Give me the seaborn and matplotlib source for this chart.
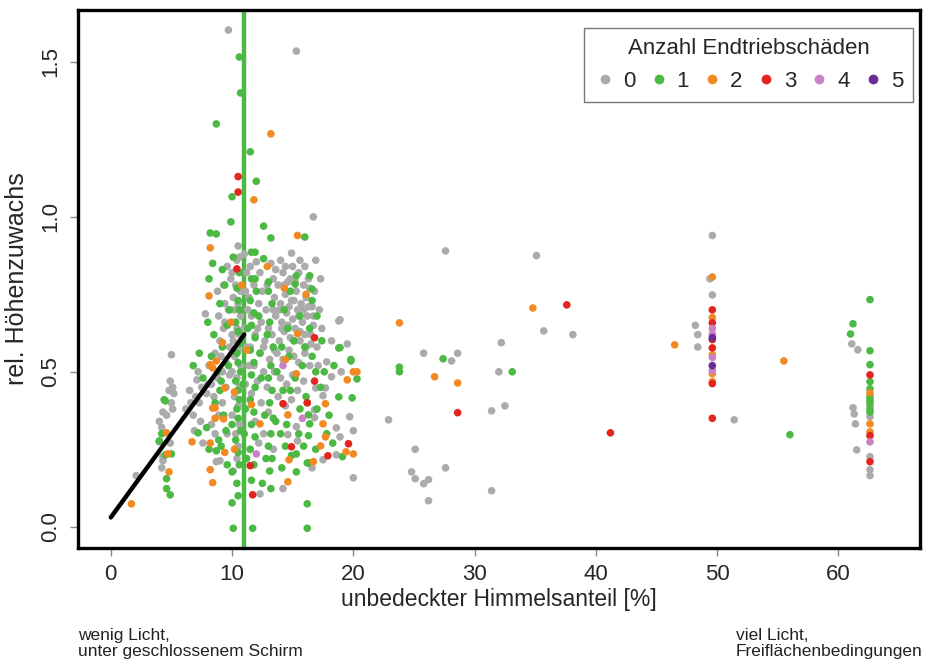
import matplotlib.pyplot as plt
import matplotlib.lines as mlines
import pandas as pd
import seaborn as sns

# Endtriebschaeden 0 (grau)
x0 = [9.7, 15.3, 16.7, 14.9, 27.6, 35.1, 35.7, 38.1, 32.2, 25.8, 28.6, 28.1, 32.0, 32.5, 31.4, 22.9, 25.1, 27.6, 24.8, 25.1,
      26.2, 25.8, 26.2, 31.4, 49.6, 49.4, 49.6, 48.2, 48.4, 48.4, 51.4, 61.1, 61.6, 62.6, 61.2, 61.3, 61.4, 61.5, 62.6, 62.6,
      62.6, 62.6, 2.1, 4.0, 4.3, 4.2, 4.2, 4.0, 4.9, 4.3, 5.0, 4.9, 5.1, 5.2, 4.8, 5.0, 5.1, 4.3, 4.6, 6.2,
      6.6, 7.0, 7.3, 6.8, 7.1, 7.2, 7.6, 7.8, 6.5, 7.5, 8.0, 8.3, 8.6, 8.9, 9.0, 8.7, 8.5, 8.8, 9.2, 8.6,
      9.0, 9.3, 8.9, 9.4, 8.8, 9.1, 9.5, 9.2, 9.6, 9.8, 10.5, 10.6, 10.4, 10.0, 10.3, 10.7, 10.1, 10.5, 10.2, 10.7,
      10.0, 10.4, 10.6, 10.1, 10.5, 10.2, 10.7, 10.0, 10.4, 10.6, 10.2, 10.5, 10.0, 10.6, 10.3, 10.5, 10.4, 10.1, 12.0, 11.5,
      12.3, 11.8, 12.5, 11.4, 12.2, 12.8, 11.6, 12.4, 13.0, 11.9, 12.7, 11.5, 12.3, 13.1, 11.8, 12.6, 12.1, 12.9, 11.6, 12.4,
      13.0, 11.9, 12.6, 12.2, 12.3, 13.4, 13.4, 13.8, 14.2, 14.6, 15.0, 15.5, 15.9, 16.3, 16.8, 13.5, 14.0, 14.4, 14.9, 15.3,
      15.7, 16.1, 16.6, 13.6, 14.1, 14.5, 15.0, 15.4, 15.8, 16.2, 16.7, 13.3, 13.9, 14.3, 14.8, 15.2, 15.6, 16.0, 16.5, 13.7,
      14.2, 14.7, 15.1, 15.5, 16.0, 16.4, 13.5, 14.0, 14.5, 15.0, 15.4, 15.9, 13.8, 14.4, 14.9, 15.3, 14.6, 15.4, 16.8, 16.8,
      16.6, 14.2, 16.9, 17.7, 17.5, 17.8, 18.2, 19.0, 19.7, 18.6, 18.9, 20.0, 18.6, 17.5, 20.0, 18.8, 19.5, 18.2, 18.9, 17.2,
      17.4, 17.0, 17.3, 16.9,
      9.6, 9.9, 9.3, 9.7, 10.0, 9.5, 9.8, 9.4, 11.0, 11.2, 11.1, 11.3, 11.0, 11.2, 11.4, 11.1, 12.1, 12.6, 13.2, 13.6,
      14.0, 14.4, 14.8, 15.2, 15.6, 16.0, 16.4, 13.4, 13.9, 14.3, 14.7, 15.1, 15.5, 15.9, 16.3, 16.7, 14.1, 14.6, 15.1, 15.6,
      16.1, 12.9, 13.5, 16.5, 17.1, 8.3, 7.9, 8.1, 7.4, 6.9]
y0 = [1.603, 1.535, 1.00, 0.883, 0.89, 0.875, 0.632, 0.62, 0.594, 0.56, 0.56, 0.535, 0.50, 0.39, 0.374, 0.345, 0.25, 0.19, 0.177, 0.155,
      0.152, 0.139, 0.084, 0.116, 0.94, 0.80, 0.748, 0.65, 0.62, 0.58, 0.345, 0.59, 0.571, 0.355, 0.384, 0.364, 0.332, 0.248, 0.226, 0.184,
      0.165, 0.39, 0.165, 0.34, 0.226, 0.19, 0.32, 0.274, 0.27, 0.213, 0.555, 0.47, 0.45, 0.43, 0.44, 0.40, 0.38, 0.37, 0.36, 0.38,
      0.40, 0.42, 0.40, 0.36, 0.474, 0.50, 0.27, 0.687, 0.44, 0.45, 0.46, 0.33, 0.30, 0.36, 0.213, 0.21, 0.42, 0.48, 0.50, 0.56,
      0.60, 0.64, 0.68, 0.72, 0.76, 0.55, 0.45, 0.40, 0.30, 0.58, 0.906, 0.87, 0.86, 0.82, 0.78, 0.76, 0.74, 0.72, 0.70, 0.68,
      0.66, 0.64, 0.62, 0.60, 0.57, 0.55, 0.52, 0.50, 0.48, 0.45, 0.42, 0.39, 0.36, 0.33, 0.30, 0.26, 0.22, 0.18, 0.855, 0.84,
      0.82, 0.78, 0.76, 0.74, 0.72, 0.70, 0.68, 0.66, 0.64, 0.62, 0.60, 0.58, 0.56, 0.54, 0.52, 0.50, 0.47, 0.45, 0.43, 0.40,
      0.37, 0.34, 0.30, 0.27, 0.106, 0.25, 0.80, 0.78, 0.82, 0.79, 0.84, 0.82, 0.78, 0.80, 0.76, 0.74, 0.72, 0.75, 0.73, 0.76,
      0.72, 0.74, 0.71, 0.68, 0.66, 0.69, 0.67, 0.70, 0.66, 0.68, 0.65, 0.62, 0.60, 0.63, 0.61, 0.64, 0.60, 0.62, 0.59, 0.56,
      0.54, 0.57, 0.55, 0.53, 0.56, 0.52, 0.50, 0.48, 0.46, 0.49, 0.44, 0.47, 0.42, 0.39, 0.41, 0.323, 0.297, 0.277, 0.352, 0.377,
      0.19, 0.123, 0.448, 0.448, 0.423, 0.532, 0.484, 0.50, 0.355, 0.319, 0.29, 0.31, 0.232, 0.216, 0.158, 0.664, 0.59, 0.60, 0.668, 0.70,
      0.64, 0.58, 0.80, 0.86,
      0.84, 0.80, 0.78, 0.70, 0.62, 0.53, 0.49, 0.66, 0.88, 0.82, 0.76, 0.70, 0.64, 0.58, 0.52, 0.46, 0.64, 0.58, 0.85, 0.83,
      0.86, 0.84, 0.80, 0.79, 0.86, 0.84, 0.77, 0.70, 0.70, 0.78, 0.71, 0.73, 0.68, 0.70, 0.71, 0.68, 0.64, 0.65, 0.60, 0.63,
      0.58, 0.78, 0.57, 0.62, 0.52, 0.46, 0.43, 0.52, 0.34, 0.31]

# Endtriebschaeden 1 (gruen)
x1 = [10.6, 10.7, 8.7, 11.5, 12.0, 10.0, 9.9, 12.6, 8.2, 8.7, 13.2, 16.0, 11.6, 11.9, 10.1, 12.6, 8.1, 11.6, 11.9, 15.3,
      16.4, 13.0, 15.2, 16.6, 18.9, 19.8, 23.8, 23.8, 27.4, 33.1, 56.0, 62.6, 61.2, 61.0, 62.6, 62.6, 62.6, 62.6, 62.6, 62.6,
      62.6, 62.6, 62.6, 4.5, 4.2, 4.0, 4.6, 4.6, 4.9, 4.4, 4.5, 5.0, 7.9, 7.2, 8.1, 9.1, 8.7, 10.0, 10.1, 11.7,
      16.2, 16.2, 13.2, 15.3, 16.2, 16.3, 15.3, 19.1, 16.3, 16.4, 16.3, 16.2, 18.8, 19.9, 17.6, 19.8, 20.3, 18.8, 10.0, 10.5,
      10.4, 10.6, 10.5, 10.3, 10.7, 10.5, 10.4, 10.6, 10.5, 10.3, 10.7, 10.5, 10.4, 10.6, 10.5, 10.3, 10.6, 10.5, 10.4, 10.6,
      11.6, 11.8, 11.5, 11.9, 11.6, 11.8, 11.5, 11.9, 11.6, 11.8, 11.5, 11.9, 11.6, 11.8, 11.5, 12.0, 13.1, 13.3, 13.0, 13.2,
      13.4, 13.1, 13.3, 13.0, 13.2, 13.4, 13.1, 13.3, 13.0, 8.5, 8.3, 8.8, 9.0, 8.6, 9.3, 9.5, 9.2, 9.6, 9.0, 9.4,
      8.4, 9.2, 7.6, 7.3, 6.8, 8.0, 14.0, 14.5, 14.8, 15.6, 15.2, 14.1, 15.8, 14.6, 15.6, 16.4, 14.3, 16.0, 16.6, 16.9,
      17.3, 17.0, 18.0, 17.8, 18.3, 16.9, 15.9, 14.9, 14.1, 12.5, 12.8, 16.6, 14.8, 17.0, 17.4, 18.4,
      9.8, 9.7, 10.9, 11.1, 11.0, 11.2, 12.2, 12.4, 12.7, 12.9, 13.7, 14.2, 14.7, 15.1, 15.5, 16.1, 9.1, 8.9, 9.6, 10.0,
      11.3, 12.3, 13.6, 14.4]
y1 = [1.516, 1.40, 1.30, 1.21, 1.115, 1.065, 0.984, 0.97, 0.948, 0.945, 0.932, 0.935, 0.886, 0.886, 0.87, 0.865, 0.80, 0.80, 0.80, 0.81,
      0.81, 0.79, 0.783, 0.767, 0.578, 0.54, 0.515, 0.50, 0.542, 0.50, 0.297, 0.733, 0.655, 0.622, 0.568, 0.523, 0.468, 0.445, 0.42, 0.41,
      0.40, 0.38, 0.37, 0.406, 0.30, 0.277, 0.155, 0.123, 0.103, 0.41, 0.232, 0.235, 0.32, 0.303, 0.25, 0.26, 0.245, 0.077, -0.005, -0.005,
      -0.005, 0.074, 0.123, 0.177, 0.206, 0.206, 0.235, 0.226, 0.294, 0.332, 0.361, 0.40, 0.419, 0.416, 0.50, 0.535, 0.477, 0.577, 0.177, 0.10,
      0.14, 0.20, 0.24, 0.28, 0.31, 0.35, 0.38, 0.41, 0.44, 0.47, 0.50, 0.53, 0.56, 0.59, 0.63, 0.66, 0.70, 0.73, 0.77, 0.82,
      0.15, 0.20, 0.25, 0.29, 0.33, 0.37, 0.41, 0.45, 0.49, 0.53, 0.57, 0.61, 0.65, 0.69, 0.73, 0.76, 0.18, 0.22, 0.26, 0.30,
      0.35, 0.40, 0.44, 0.48, 0.52, 0.58, 0.66, 0.72, 0.76, 0.62, 0.55, 0.50, 0.44, 0.40, 0.36, 0.31, 0.58, 0.65, 0.72, 0.78,
      0.85, 0.83, 0.48, 0.56, 0.52, 0.66, 0.30, 0.33, 0.44, 0.38, 0.48, 0.58, 0.52, 0.64, 0.68, 0.64, 0.70, 0.58, 0.55, 0.50,
      0.45, 0.38, 0.36, 0.30, 0.27, 0.25, 0.26, 0.23, 0.19, 0.14, 0.22, 0.73, 0.76, 0.68, 0.60, 0.52,
      0.70, 0.52, 0.46, 0.38, 0.30, 0.22, 0.68, 0.48, 0.36, 0.62, 0.50, 0.44, 0.55, 0.60, 0.30, 0.42, 0.47, 0.28, 0.20, 0.33,
      0.64, 0.56, 0.34, 0.26]

# Endtriebschaeden 2 (orange)
x2 = [13.2, 11.8, 15.4, 8.2, 8.1, 16.1, 23.8, 34.8, 26.7, 28.6, 49.6, 49.6, 49.6, 49.6, 49.6, 46.5, 55.5, 62.6, 62.6, 62.6,
      1.7, 4.6, 4.7, 4.8, 6.7, 8.2, 8.2, 8.4, 9.4, 10.2, 14.7, 16.7, 14.6, 19.4, 20.0, 17.7, 17.5, 17.7, 14.6, 12.3,
      11.6, 8.6, 9.3, 8.4, 8.6, 8.2, 8.7, 8.4, 10.2, 9.4, 15.4, 14.4, 15.3, 9.9, 9.2, 20.0, 20.3, 19.5, 17.3, 10.8,
      12.9, 14.3, 11.2]
y2 = [1.268, 1.055, 0.94, 0.90, 0.745, 0.75, 0.658, 0.706, 0.484, 0.464, 0.806, 0.675, 0.555, 0.494, 0.468, 0.587, 0.535, 0.432, 0.332, 0.306,
      0.074, 0.303, 0.235, 0.177, 0.274, 0.27, 0.184, 0.142, 0.24, 0.25, 0.216, 0.21, 0.145, 0.242, 0.235, 0.29, 0.332, 0.397, 0.361, 0.332,
      0.394, 0.384, 0.348, 0.383, 0.35, 0.523, 0.535, 0.513, 0.435, 0.448, 0.623, 0.539, 0.494, 0.66, 0.594, 0.50, 0.50, 0.474, 0.261, 0.78,
      0.84, 0.77, 0.57]

# Endtriebschaeden 3 (rot)
x3 = [10.5, 10.5, 10.4, 16.8, 37.6, 28.6, 41.2, 49.6, 49.6, 49.6, 49.6, 49.6, 49.6, 62.6, 62.6, 62.6, 11.7, 11.5, 17.9, 19.6,
      16.8, 16.2, 14.2, 14.9]
y3 = [1.13, 1.08, 0.832, 0.61, 0.716, 0.368, 0.303, 0.70, 0.658, 0.604, 0.577, 0.462, 0.35, 0.49, 0.294, 0.21, 0.103, 0.197, 0.229, 0.268,
      0.47, 0.40, 0.397, 0.258]

# Endtriebschaeden 4 (rosa) und 5 (lila)
x4 = [49.6, 49.6, 49.6, 49.6, 62.6, 12.0, 14.2, 15.8]
y4 = [0.64, 0.622, 0.546, 0.504, 0.274, 0.235, 0.52, 0.35]
x5 = [49.6, 49.6]
y5 = [0.61, 0.52]

klassen = ["0", "1", "2", "3", "4", "5"]
farben = ["#ababab", "#4cb944", "#f28a24", "#e3241f", "#c981c6", "#6c2a94"]

trend_x = [0, 11]
trend_y = [0.03, 0.62]
schwelle = 11

frames = []
for k, xs, ys in zip(klassen, [x0, x1, x2, x3, x4, x5], [y0, y1, y2, y3, y4, y5]):
    frames.append(pd.DataFrame({"licht": xs, "zuwachs": ys, "schaden": k}))
df = pd.concat(frames, ignore_index=True)

sns.set_theme(style="white")
plt.rcParams["font.family"] = ["Liberation Sans", "DejaVu Sans"]

fig = plt.figure(figsize=(9.29, 6.60), dpi=100)
ax = fig.add_axes([0.084, 0.170, 0.906, 0.815])

ax.axvline(schwelle, color="#4cb944", lw=3.2, zorder=1)
sns.scatterplot(data=df, x="licht", y="zuwachs", hue="schaden", hue_order=klassen,
                palette=dict(zip(klassen, farben)), s=30, linewidth=0, ax=ax,
                legend=False, zorder=2)
sns.lineplot(x=trend_x, y=trend_y, color="black", lw=3.2, ax=ax, zorder=3)

ax.set_xlim(-2.7, 66.7)
ax.set_ylim(-0.068, 1.668)
ax.set_xticks([0, 10, 20, 30, 40, 50, 60])
ax.set_yticks([0.0, 0.5, 1.0, 1.5])
ax.set_yticklabels(["0.0", "0.5", "1.0", "1.5"], rotation=90, va="center")
ax.tick_params(axis="both", which="major", direction="out", length=6, width=1,
               color="#888888", labelsize=16, pad=6, bottom=True, left=True)
for sp in ax.spines.values():
    sp.set_linewidth(2.4)
    sp.set_color("black")
ax.set_xlabel("unbedeckter Himmelsanteil [%]", fontsize=16.5, labelpad=2)
ax.set_ylabel("rel. Höhenzuwachs", fontsize=18, labelpad=8)

handles = [mlines.Line2D([], [], color=c, marker="o", linestyle="", markersize=6)
           for c in farben]
leg = ax.legend(handles, klassen, title="Anzahl Endtriebschäden", ncol=6,
                loc="upper right", bbox_to_anchor=(1.0, 0.978), fontsize=16,
                title_fontsize=16, frameon=True, fancybox=False,
                handletextpad=0.3, columnspacing=0.55, handlelength=1.0,
                borderpad=0.45, borderaxespad=0.3, edgecolor="#555555")
leg.get_frame().set_linewidth(1.0)

fig.text(0.084, 0.006, "wenig Licht,\nunter geschlossenem Schirm", fontsize=12.5,
         color="#222222", family=["Liberation Sans Narrow", "Liberation Sans", "DejaVu Sans"],
         linespacing=1.05)
fig.text(0.792, 0.006, "viel Licht,\nFreiflächenbedingungen", fontsize=12.5,
         color="#222222", family=["Liberation Sans Narrow", "Liberation Sans", "DejaVu Sans"],
         linespacing=1.05)

fig.savefig("out.png", dpi=100)
